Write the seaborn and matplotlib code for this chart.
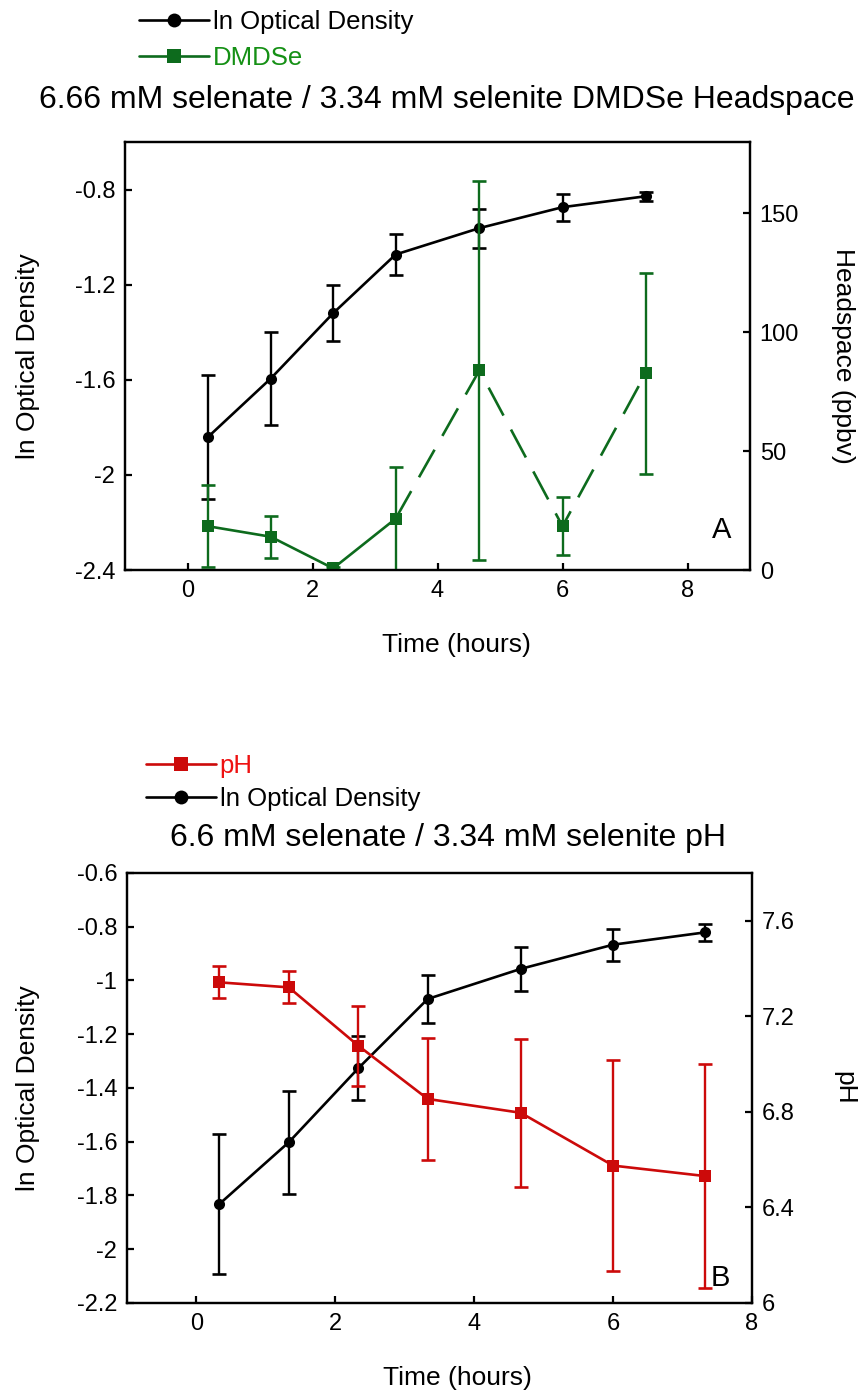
import matplotlib
matplotlib.use("Agg")
import matplotlib.pyplot as plt
from matplotlib.ticker import FormatStrFormatter
import numpy as np
import seaborn as sns

# values
time_h = [0.33, 1.33, 2.33, 3.33, 4.67, 6.0, 7.33]

ln_od_a = [-1.84, -1.595, -1.32, -1.073, -0.962, -0.874, -0.828]
ln_od_a_err = [0.26, 0.195, 0.118, 0.085, 0.082, 0.056, 0.02]
dmdse = [18.4, 14.0, 0.7, 21.6, 84.0, 18.4, 82.7]
dmdse_err = [17.3, 8.9, 0.5, 21.8, 79.6, 12.2, 42.2]

ln_od_b = [-1.832, -1.602, -1.327, -1.069, -0.957, -0.867, -0.821]
ln_od_b_err = [0.262, 0.192, 0.119, 0.09, 0.083, 0.059, 0.031]
ph = [7.342, 7.321, 7.077, 6.854, 6.796, 6.575, 6.531]
ph_err = [0.067, 0.067, 0.168, 0.255, 0.31, 0.44, 0.468]

green = "#0d6b1d"
green_txt = "#159015"
red = "#cc0a0a"
red_txt = "#ee1111"

sns.set_style("ticks")
plt.rcParams['font.family'] = ['Liberation Sans', 'DejaVu Sans']
plt.rcParams['axes.unicode_minus'] = False
plt.rcParams['xtick.direction'] = 'in'
plt.rcParams['ytick.direction'] = 'in'
plt.rcParams['text.color'] = 'black'
plt.rcParams['axes.labelcolor'] = 'black'

TICK = 17
LAB = 19

fig = plt.figure(figsize=(8.61, 13.94), dpi=100)


def style_axis(ax):
    for s in ax.spines.values():
        s.set_linewidth(1.6)
        s.set_color("black")
    ax.tick_params(labelsize=TICK, width=1.6, length=5, pad=7, colors="black")


def err(ax, x, y, e, c):
    ax.errorbar(x, y, yerr=e, fmt="none", ecolor=c, elinewidth=1.7,
                capsize=5, capthick=1.9, zorder=2)


# ---------- panel A ----------
axA = fig.add_axes([0.1452, 0.5911, 0.7259, 0.3070])
axA2 = axA.twinx()

err(axA, time_h, ln_od_a, ln_od_a_err, "black")
sns.lineplot(x=time_h, y=ln_od_a, ax=axA, color="black", marker="o",
             markersize=8, markeredgewidth=0, linewidth=1.9,
             label="ln Optical Density")

err(axA2, time_h, dmdse, dmdse_err, green)
sns.lineplot(x=time_h[:4], y=dmdse[:4], ax=axA2, color=green, marker="s",
             markersize=8, markeredgewidth=0, linewidth=1.9, label="DMDSe")
sns.lineplot(x=time_h[3:], y=dmdse[3:], ax=axA2, color=green, marker="s",
             markersize=8, markeredgewidth=0, linewidth=1.9,
             linestyle=(0, (12, 6)))

axA.set_xlim(-1, 9)
axA.set_xticks([0, 2, 4, 6, 8])
axA.set_ylim(-2.4, -0.6)
axA.set_yticks([-2.4, -2.0, -1.6, -1.2, -0.8])
axA.yaxis.set_major_formatter(FormatStrFormatter('%g'))
axA2.set_ylim(0, 180)
axA2.set_yticks([0, 50, 100, 150])
for a in (axA, axA2):
    style_axis(a)

axA.set_xlabel("Time (hours)", fontsize=LAB)
axA.xaxis.set_label_coords(0.53, -0.175)
axA.xaxis.label.set_va("center")
axA.set_ylabel("ln Optical Density", fontsize=LAB, va="center")
axA.yaxis.set_label_coords(-0.155, 0.5)
axA2.set_ylabel("Headspace (ppbv)", fontsize=LAB, rotation=270, va="center")
axA2.yaxis.set_label_coords(1.148, 0.5)
axA.text(0.955, 0.093, "A", transform=axA.transAxes, fontsize=21,
         ha="center", va="center")

hA = axA.get_legend_handles_labels()
hA2 = axA2.get_legend_handles_labels()
axA.get_legend().remove()
axA2.get_legend().remove()
legA = fig.legend(hA[0] + hA2[0][:1], hA[1] + hA2[1][:1], loc="upper left",
                  bbox_to_anchor=(0.162, 0.9925), frameon=False, fontsize=18.5,
                  borderpad=0, borderaxespad=0, handlelength=2.7,
                  handletextpad=0.15, labelspacing=0.45, markerscale=1.25)
legA.get_texts()[1].set_color(green_txt)

fig.text(0.519, 0.928, "6.66 mM selenate / 3.34 mM selenite DMDSe Headspace",
         fontsize=23, ha="center", va="center")

# ---------- panel B ----------
axB = fig.add_axes([0.1475, 0.0653, 0.7259, 0.3085])
axB2 = axB.twinx()

err(axB, time_h, ln_od_b, ln_od_b_err, "black")
sns.lineplot(x=time_h, y=ln_od_b, ax=axB, color="black", marker="o",
             markersize=8, markeredgewidth=0, linewidth=1.9,
             label="ln Optical Density")

err(axB2, time_h, ph, ph_err, red)
sns.lineplot(x=time_h, y=ph, ax=axB2, color=red, marker="s",
             markersize=8, markeredgewidth=0, linewidth=1.9, label="pH")

axB.set_xlim(-1, 8)
axB.set_xticks([0, 2, 4, 6, 8])
axB.set_ylim(-2.2, -0.6)
axB.set_yticks([-2.2, -2.0, -1.8, -1.6, -1.4, -1.2, -1.0, -0.8, -0.6])
axB.yaxis.set_major_formatter(FormatStrFormatter('%g'))
axB2.set_ylim(6.0, 7.8)
axB2.set_yticks([6.0, 6.4, 6.8, 7.2, 7.6])
axB2.yaxis.set_major_formatter(FormatStrFormatter('%g'))
for a in (axB, axB2):
    style_axis(a)

axB.set_xlabel("Time (hours)", fontsize=LAB)
axB.xaxis.set_label_coords(0.528, -0.174)
axB.xaxis.label.set_va("center")
axB.set_ylabel("ln Optical Density", fontsize=LAB, va="center")
axB.yaxis.set_label_coords(-0.158, 0.5)
axB2.set_ylabel("pH", fontsize=LAB, rotation=270, va="center")
axB2.yaxis.set_label_coords(1.148, 0.5)
axB.text(0.95, 0.058, "B", transform=axB.transAxes, fontsize=21,
         ha="center", va="center")

hB = axB.get_legend_handles_labels()
hB2 = axB2.get_legend_handles_labels()
axB.get_legend().remove()
axB2.get_legend().remove()
legB = fig.legend(hB2[0] + hB[0], hB2[1] + hB[1], loc="upper left",
                  bbox_to_anchor=(0.17, 0.459), frameon=False, fontsize=18.5,
                  borderpad=0, borderaxespad=0, handlelength=2.7,
                  handletextpad=0.15, labelspacing=0.35, markerscale=1.25)
legB.get_texts()[0].set_color(red_txt)

fig.text(0.52, 0.399, "6.6 mM selenate / 3.34 mM selenite pH",
         fontsize=23, ha="center", va="center")

fig.savefig("out.png", dpi=100)
